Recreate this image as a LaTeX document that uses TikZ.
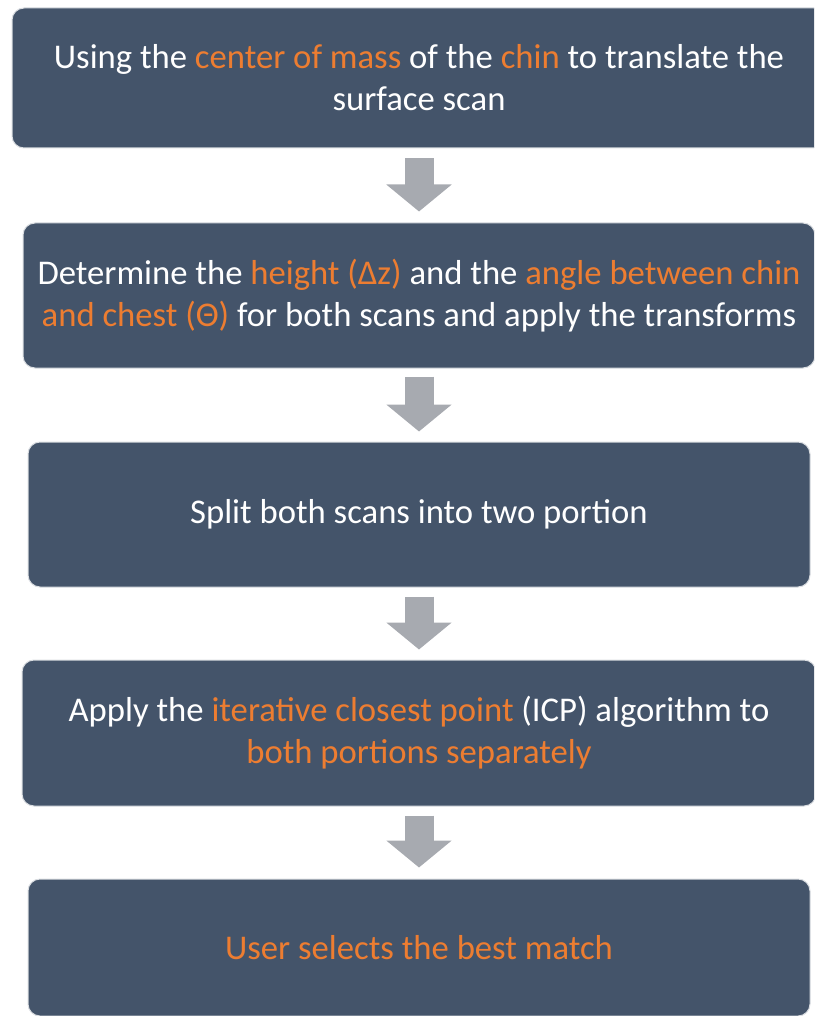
\documentclass[tikz,border=0pt]{standalone}
\usepackage{fontspec}
\setmainfont{Carlito}
\usetikzlibrary{arrows.meta,calc}

\definecolor{boxslate}{RGB}{68,84,106}
\definecolor{hiorange}{RGB}{237,125,49}
\definecolor{arrowgrey}{RGB}{167,170,176}
\newcommand{\hl}[1]{\textcolor{hiorange}{#1}}

\tikzset{every picture/.style={line width=0.75pt}}

\begin{document}
\begin{tikzpicture}[x=0.75pt,y=0.75pt,yscale=-1,xscale=1,
	stepbox/.style={fill=boxslate, draw=white!80!boxslate, rounded corners=9pt, text=white, align=center, inner sep=0pt, font=\fontsize{26}{31.5}\selectfont},
	flowarrow/.style={draw=arrowgrey, line width=21.75pt, -{Triangle[length=20.25pt,width=48pt]}}]
	\path[use as bounding box, clip] (0,0) rectangle (814,1016);

	%Shape: Rounded Rect [id:b1] 
	\node[stepbox, minimum width=610.5pt, minimum height=105pt] (b1) at (419,78) {Using the \hl{center of mass} of the \hl{chin} to translate the\\surface scan};
	%Shape: Rounded Rect [id:b2] 
	\node[stepbox, minimum width=594pt, minimum height=108.75pt] (b2) at (419,295.5) {Determine the \hl{height (Δz)} and the \hl{angle between chin}\\\hl{and chest (Θ)} for both scans and apply the transforms};
	%Shape: Rounded Rect [id:b3] 
	\node[stepbox, minimum width=586.5pt, minimum height=108.75pt] (b3) at (419,514.5) {Split both scans into two portion};
	%Shape: Rounded Rect [id:b4] 
	\node[stepbox, minimum width=595.5pt, minimum height=109.5pt] (b4) at (419,733) {Apply the \hl{iterative closest point} (ICP) algorithm to\\\hl{both portions separately}};
	%Shape: Rounded Rect [id:b5] 
	\node[stepbox, minimum width=586.5pt, minimum height=102.75pt] (b5) at (419,947.5) {\hl{User selects the best match}};

	%Block Arrows
	\draw[flowarrow] ($(b1.south)+(0,10)$) -- ($(b2.north)+(0,-11)$);
	\draw[flowarrow] ($(b2.south)+(0,8)$) -- ($(b3.north)+(0,-10)$);
	\draw[flowarrow] ($(b3.south)+(0,9)$) -- ($(b4.north)+(0,-10)$);
	\draw[flowarrow] ($(b4.south)+(0,9)$) -- ($(b5.north)+(0,-11)$);

\end{tikzpicture}
\end{document}
